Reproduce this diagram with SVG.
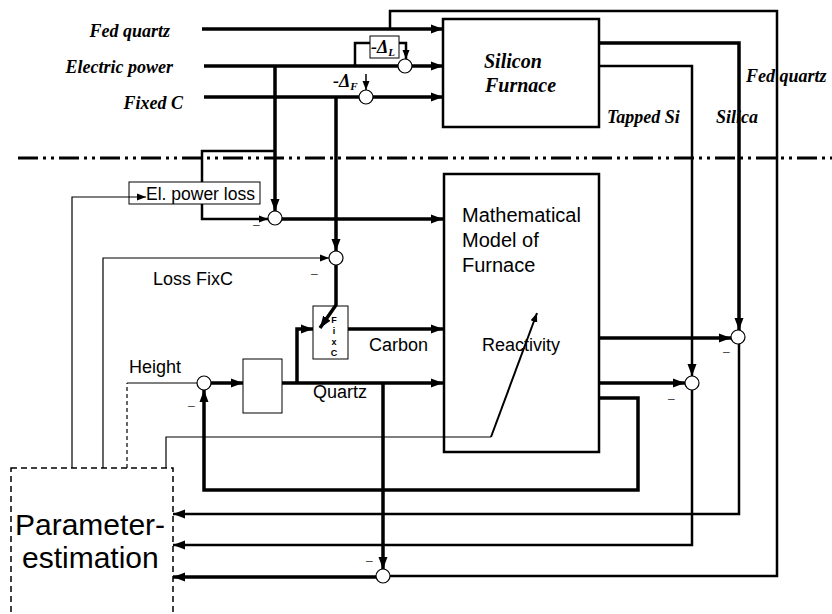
<svg xmlns="http://www.w3.org/2000/svg" width="832" height="614" viewBox="0 0 832 614">
<style>
.ser{font-family:"Liberation Serif","Times New Roman",serif;font-weight:bold;font-style:italic;fill:#000}
.san{font-family:"Liberation Sans",Arial,sans-serif;fill:#000}
.c{fill:none;stroke:#000;stroke-linejoin:miter;stroke-linecap:butt}
.t3{stroke-width:3.5}
.t2{stroke-width:2.5}
.t1{stroke-width:1.2}
.box{fill:none;stroke:#000}
.sum{fill:#fff;stroke:#000;stroke-width:1.2}
.minus{font-family:"Liberation Sans",Arial,sans-serif;font-size:12px;fill:#444}
</style>
<defs>
<marker id="ah" markerUnits="userSpaceOnUse" markerWidth="13" markerHeight="10" refX="12" refY="5" orient="auto"><path d="M0,0.5 L12,5 L0,9.5 z" fill="#000"/></marker>
<marker id="as" markerUnits="userSpaceOnUse" markerWidth="10" markerHeight="8" refX="9" refY="4" orient="auto"><path d="M0,0.5 L9,4 L0,7.5 z" fill="#000"/></marker>
</defs>
<rect width="832" height="614" fill="#fff"/>

<!-- separator -->
<line x1="18" y1="158" x2="832" y2="158" stroke="#000" stroke-width="3" stroke-dasharray="20 5 3 5 3 5"/>

<g id="connectors">
  <path class="c t3" d="M202,29 H443" marker-end="url(#ah)"/>
  <path class="c t2" d="M390,29 V11 H777 V576 H390"/>
  <path class="c t3" d="M204,66 H443" marker-end="url(#ah)"/>
  <path class="c t2" d="M355,66 V43 H370"/>
  <path class="c t2" d="M399,43 H406 V59" marker-end="url(#as)"/>
  <path class="c t3" d="M204,97 H443" marker-end="url(#ah)"/>
  <path class="c" stroke-width="1.5" d="M366,74 V90" marker-end="url(#as)"/>
  <path class="c t3" d="M275,66 V211" marker-end="url(#ah)"/>
  <path class="c t2" d="M275,151 H202 V182"/>
  <path class="c t2" d="M202,204 V219 H268" marker-end="url(#as)"/>
  <path class="c t3" d="M282,219 H443" marker-end="url(#ah)"/>
  <path class="c t3" d="M336,97 V251" marker-end="url(#ah)"/>
  <path class="c t1" d="M103,468 V258 H329" marker-end="url(#as)"/>
  <path class="c t3" d="M336,265 V305 L320,328" marker-end="url(#ah)"/>
  <path class="c t1" d="M72,468 V197 H146" marker-end="url(#as)"/>
  <path class="c t3" d="M348,329 H443" marker-end="url(#ah)"/>
  <path class="c t3" d="M297,383 V329 H313" marker-end="url(#ah)"/>
  <path class="c t1" d="M127,383 H197"/>
  <path class="c t1" d="M127,468 V383" stroke-dasharray="4 3"/>
  <path class="c t3" d="M211,383 H243" marker-end="url(#ah)"/>
  <path class="c t3" d="M282,383 H443" marker-end="url(#ah)"/>
  <path class="c t3" d="M383,383 V569" marker-end="url(#ah)"/>
  <path class="c t3" d="M376,577 H173" marker-end="url(#ah)"/>
  <path class="c t3" d="M599,338 H731" marker-end="url(#ah)"/>
  <path class="c t3" d="M599,43 H739 V330" marker-end="url(#ah)"/>
  <path class="c t2" d="M739,344 V514 H173" marker-end="url(#ah)"/>
  <path class="c t2" d="M599,66 H692 V376" marker-end="url(#ah)"/>
  <path class="c t3" d="M599,383 H685" marker-end="url(#ah)"/>
  <path class="c t2" d="M692,390 V545 H173" marker-end="url(#ah)"/>
  <path class="c t3" d="M599,398 H638 V490 H204 V390" marker-end="url(#ah)"/>
  <path class="c t1" d="M166,468 V437 H491"/>
  <path class="c" stroke-width="2" d="M491,437 L537,313" marker-end="url(#as)"/>
</g>

<g id="labels">
  <text class="ser" x="170" y="37" font-size="18" text-anchor="end">Fed quartz</text>
  <text class="ser" x="173" y="73" font-size="18" text-anchor="end">Electric power</text>
  <text class="ser" x="183" y="109" font-size="18" text-anchor="end">Fixed C</text>
  <text class="ser" x="607" y="123" font-size="18">Tapped Si</text>
  <text class="ser" x="716" y="123" font-size="18">Silica</text>
  <text class="ser" x="746" y="82" font-size="18">Fed quartz</text>
  <text class="ser" x="333" y="87" font-size="18">-Δ<tspan font-size="11" dy="3">F</tspan></text>
  <text class="san" x="153" y="285" font-size="18">Loss FixC</text>
  <text class="san" x="369" y="351" font-size="18">Carbon</text>
  <text class="san" x="313" y="398" font-size="18">Quartz</text>
  <text class="san" x="129" y="373" font-size="18">Height</text>
</g>

<g id="silicon-furnace">
  <rect class="box" x="443" y="19" width="156" height="108" stroke-width="2.5"/>
  <text class="ser" x="484" y="68" font-size="20">Silicon</text>
  <text class="ser" x="485" y="92" font-size="20">Furnace</text>
</g>

<g id="delta-l">
  <rect x="370" y="36" width="29" height="22" fill="#fff" stroke="#000" stroke-width="1"/>
  <text class="ser" x="371" y="53" font-size="18">-Δ<tspan font-size="11" dy="3">L</tspan></text>
</g>

<g id="el-power-loss">
  <rect class="box" x="129" y="182" width="131" height="22" stroke-width="1"/>
  <text class="san" x="146" y="200" font-size="17.5">El. power loss</text>
</g>

<g id="math-model">
  <rect class="box" x="444" y="174" width="155" height="278" stroke-width="2.5"/>
  <text class="san" x="462" y="222" font-size="20">Mathematical</text>
  <text class="san" x="462" y="247" font-size="20">Model of</text>
  <text class="san" x="462" y="272" font-size="20">Furnace</text>
  <text class="san" x="482" y="351" font-size="18">Reactivity</text>
</g>

<g id="fixc">
  <rect class="box" x="313" y="306" width="35" height="53" stroke-width="1"/>
  <text class="san" x="334" y="323" font-size="9" font-weight="bold" text-anchor="middle">F</text>
  <text class="san" x="334" y="334" font-size="9" font-weight="bold" text-anchor="middle">i</text>
  <text class="san" x="334" y="345" font-size="9" font-weight="bold" text-anchor="middle">x</text>
  <text class="san" x="334" y="356" font-size="9" font-weight="bold" text-anchor="middle">C</text>
</g>

<g id="height-block">
  <rect class="box" x="243" y="359" width="39" height="54" stroke-width="1"/>
</g>

<g id="param-est">
  <rect x="11" y="468" width="162" height="160" fill="none" stroke="#000" stroke-width="1.5" stroke-dasharray="6 4"/>
  <text class="san" x="15" y="535" font-size="30">Parameter-</text>
  <text class="san" x="22" y="568" font-size="30">estimation</text>
</g>

<g id="sums">
  <circle class="sum" cx="405" cy="66" r="7"/>
  <circle class="sum" cx="366" cy="97" r="7"/>
  <circle class="sum" cx="275" cy="218" r="7"/>
  <circle class="sum" cx="336" cy="258" r="7"/>
  <circle class="sum" cx="204" cy="383" r="7"/>
  <circle class="sum" cx="383" cy="576" r="7"/>
  <circle class="sum" cx="738" cy="337" r="7"/>
  <circle class="sum" cx="692" cy="383" r="7"/>
  <text class="minus" x="253" y="229">–</text>
  <text class="minus" x="311" y="278">–</text>
  <text class="minus" x="188" y="410">–</text>
  <text class="minus" x="723" y="356">–</text>
  <text class="minus" x="668" y="403">–</text>
  <text class="minus" x="366" y="565">–</text>
</g>
</svg>
